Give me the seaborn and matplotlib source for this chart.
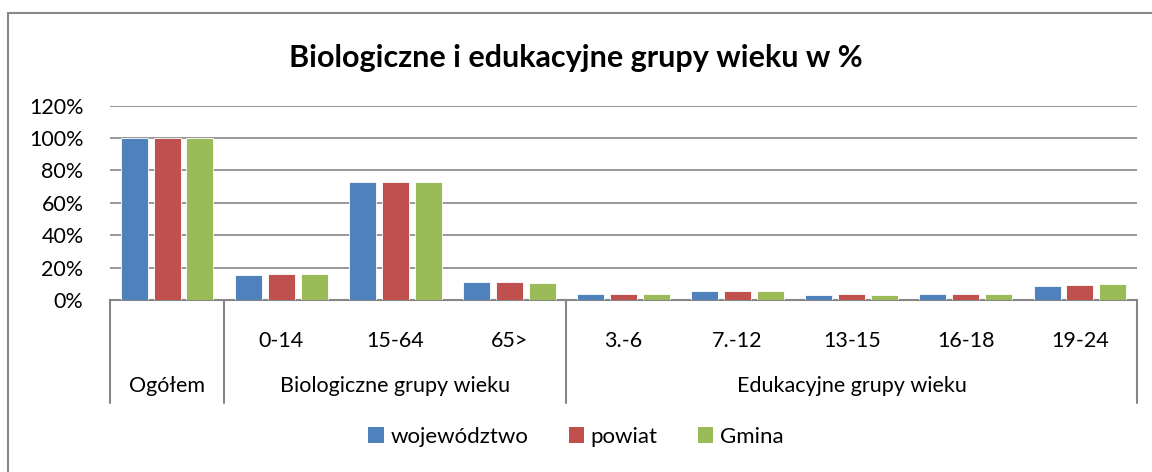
import numpy as np
import pandas as pd
import matplotlib
matplotlib.use("Agg")
import matplotlib.pyplot as plt
import matplotlib.patches as mpatches
import matplotlib.transforms as mtransforms
from matplotlib.lines import Line2D
from matplotlib.ticker import PercentFormatter
import seaborn as sns

# dane
kategorie = ["Ogółem", "0-14", "15-64", "65>", "3.-6", "7.-12", "13-15", "16-18", "19-24"]
etykiety_dolne = ["", "0-14", "15-64", "65>", "3.-6", "7.-12", "13-15", "16-18", "19-24"]
grupy = ["Ogółem", "Biologiczne grupy wieku", "Edukacyjne grupy wieku"]
grupy_zakres = [(0, 0), (1, 3), (4, 8)]

wojewodztwo = [1.00, 0.154, 0.727, 0.114, 0.037, 0.055, 0.029, 0.035, 0.084]
powiat = [1.00, 0.159, 0.726, 0.110, 0.039, 0.057, 0.035, 0.039, 0.090]
gmina = [1.00, 0.160, 0.728, 0.104, 0.039, 0.057, 0.033, 0.039, 0.096]

serie = ["województwo", "powiat", "Gmina"]
kolory = ["#4F81BD", "#C0504D", "#9BBB59"]

df = pd.DataFrame({
    "kategoria": kategorie * 3,
    "seria": np.repeat(serie, len(kategorie)),
    "wartosc": wojewodztwo + powiat + gmina,
})

sns.set_theme(style="white")
plt.rcParams["font.family"] = ["Lato", "DejaVu Sans"]
plt.rcParams["text.color"] = "black"

FS = 15.5
W, H = 1152, 472
fig = plt.figure(figsize=(W / 100, H / 100), dpi=100)
ax = fig.add_axes([110 / W, 1 - 300 / H, (1137 - 110) / W, (300 - 105.5) / H])

sns.barplot(data=df, x="kategoria", y="wartosc", hue="seria", order=kategorie,
            hue_order=serie, palette=kolory, saturation=1, width=0.865, gap=0.18,
            edgecolor="white", linewidth=0.6, legend=False, ax=ax, zorder=3)

ax.set_xlim(-0.5, len(kategorie) - 0.5)
ax.set_ylim(0, 1.2)
ax.set_yticks(np.arange(0, 1.21, 0.2))
ax.yaxis.set_major_formatter(PercentFormatter(1.0, decimals=0))
ax.tick_params(axis="y", length=0, pad=19, labelsize=FS, labelcolor="black")
ax.grid(axis="y", color="#868686", linewidth=1.2, zorder=0)
ax.set_axisbelow(True)
for s in ["left", "right", "top"]:
    ax.spines[s].set_visible(False)
ax.spines["bottom"].set_color("#868686")
ax.spines["bottom"].set_linewidth(1.5)
ax.set_xlabel("")
ax.set_ylabel("")
ax.set_xticks([])

# wielopoziomowa os kategorii
tr = mtransforms.blended_transform_factory(ax.transData, ax.transAxes)
h_ax = (300 - 105.5)
for i, lab in enumerate(etykiety_dolne):
    ax.text(i, -41 / h_ax, lab, transform=tr, ha="center", va="center",
            fontsize=FS, color="black")
for nazwa, (a, b) in zip(grupy, grupy_zakres):
    ax.text((a + b) / 2, -86 / h_ax, nazwa, transform=tr, ha="center", va="center",
            fontsize=FS, color="black")
for xs in [-0.5, 0.5, 3.5, 8.5]:
    ax.add_line(Line2D([xs, xs], [0, -103 / h_ax], transform=tr, color="#868686",
                       linewidth=1.5, clip_on=False))

fig.text(0.5, 1 - 58 / H, "Biologiczne i edukacyjne grupy wieku w %",
         ha="center", va="center", fontsize=22, fontweight="bold", color="black")

uchwyty = [mpatches.Patch(facecolor=c, edgecolor="none", label=s) for c, s in zip(kolory, serie)]
fig.legend(handles=uchwyty, loc="center", bbox_to_anchor=(0.5, 1 - 437 / H), ncol=3,
           frameon=False, fontsize=16, handlelength=0.7, handleheight=0.7,
           handletextpad=0.3, columnspacing=1.8)

# ramka wykresu
fig.add_artist(Line2D([8 / W, 1], [1 - 13 / H, 1 - 13 / H], transform=fig.transFigure,
                      color="#888888", linewidth=1.5))
fig.add_artist(Line2D([8 / W, 8 / W], [1 - 13 / H, 0], transform=fig.transFigure,
                      color="#888888", linewidth=1.5))

fig.savefig("out.png", dpi=100, facecolor="white")
